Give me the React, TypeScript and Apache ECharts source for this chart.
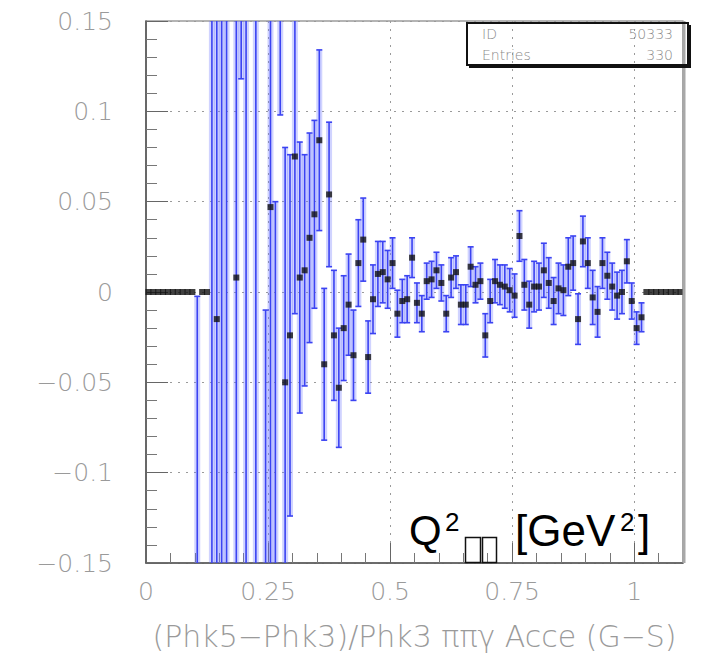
import React, { useEffect, useRef } from "react";
import * as echarts from "echarts";

// ---------- data (bin width 0.01, 110 bins from 0 to 1.1) ----------
const binWidth = 0.01;
const xMin = 0;
const xMax = 1.1;
const yMin = -0.15;
const yMax = 0.15;
const xTicks = [0, 0.25, 0.5, 0.75, 1];
const yTicks = [-0.15, -0.1, -0.05, 0, 0.05, 0.1, 0.15];

// bin contents (null = empty bin, nothing drawn)
const binValues: (number | null)[] = [
  0, 0, 0, 0, 0, 0, 0, 0, 0, 0, // 0-9
  -0.2, 0, 0, 0.3, -0.015, -0.3, 0.25, null, 0.008, 0.25, // 10-19
  0.3, null, -0.28, null, -0.2, 0.047, -0.2, 0.2, -0.05, -0.024, // 20-29
  0.075, 0.008, 0.012, 0.03, 0.043, 0.084, -0.04, 0.054, -0.024, -0.053, // 30-39
  -0.02, -0.007, -0.035, 0.016, 0.029, -0.036, -0.004, 0.01, 0.011, 0.007, // 40-49
  0.016, -0.012, -0.005, -0.004, 0.019, -0.006, -0.012, 0.006, 0.007, 0.012, // 50-59
  0.005, -0.012, 0.008, 0.011, -0.007, -0.007, 0.014, 0.004, 0.006, -0.024, // 60-69
  -0.005, 0.006, 0.004, 0.003, 0.001, -0.002, 0.031, 0.004, -0.007, 0.003, // 70-79
  0.003, 0.012, 0.005, -0.005, 0.002, 0.001, 0.014, 0.016, -0.015, 0.028, // 80-89
  0.016, -0.003, -0.011, 0.016, 0.009, 0.003, -0.002, 0.0, 0.017, -0.005, // 90-99
  -0.02, -0.014, 0, 0, 0, 0, 0, 0, 0, 0, // 100-109
];

// bin errors
const binErrors: number[] = [
  0, 0, 0, 0, 0, 0, 0, 0, 0, 0, // 0-9
  0.1976, 0, 0, 0.5, 0.4, 0.5, 0.45, 0, 0.3, 0.132, // 10-19
  0.5, 0, 0.5, 0, 0.19, 0.25, 0.25, 0.102, 0.13, 0.1, // 20-29
  0.087, 0.075, 0.064, 0.058, 0.052, 0.05, 0.042, 0.04, 0.036, 0.033, // 30-39
  0.029, 0.028, 0.025, 0.024, 0.023, 0.02, 0.019, 0.018, 0.017, 0.016, // 40-49
  0.014, 0.013, 0.012, 0.013, 0.011, 0.011, 0.01, 0.01, 0.01, 0.01, // 50-59
  0.01, 0.01, 0.011, 0.009, 0.011, 0.011, 0.011, 0.01, 0.01, 0.012, // 60-69
  0.012, 0.012, 0.011, 0.012, 0.012, 0.012, 0.014, 0.014, 0.013, 0.014, // 70-79
  0.013, 0.015, 0.014, 0.013, 0.014, 0.014, 0.016, 0.015, 0.014, 0.014, // 80-89
  0.014, 0.015, 0.014, 0.014, 0.013, 0.013, 0.013, 0.012, 0.012, 0.01, // 90-99
  0.009, 0.008, 0, 0, 0, 0, 0, 0, 0, 0, // 100-109
];

const statsLabels = ["ID", "Entries"];
const statsValues = ["50333", "330"];
const xTitle = "(Phk5\u2212Phk3)/Phk3 \u03c0\u03c0\u03b3 Acce (G\u2212S)";

const fmt = (v: number) => {
  const r = Math.round(v * 100) / 100;
  if (r === 0) return "0";
  return (r < 0 ? "\u2212" : "") + String(Math.abs(r));
};

export default function App() {
  const ref = useRef<HTMLDivElement>(null);
  useEffect(() => {
    if (!ref.current) return;
    const chart = echarts.init(ref.current, undefined, { renderer: "svg" });

    const errData: number[][] = [];
    const markData: number[][] = [];
    binValues.forEach((v, i) => {
      if (v === null) return;
      const x = (i + 0.5) * binWidth;
      const e = binErrors[i];
      if (e > 0) errData.push([x, v, e]);
      if (v >= yMin && v <= yMax) markData.push([x, v]);
    });

    const labelFont = {
      color: "#9a9a9a",
      fontFamily: "DejaVu Sans",
      fontWeight: 200 as any,
      fontSize: 25,
    };

    const renderItem = (params: any, api: any) => {
      const x = api.value(0);
      const v = api.value(1);
      const e = api.value(2);
      const cs = params.coordSys;
      const top = api.coord([x, v + e]);
      const bot = api.coord([x, v - e]);
      const yTop = Math.max(top[1], cs.y);
      const yBot = Math.min(bot[1], cs.y + cs.height);
      if (yTop >= yBot) return null;
      const cx = top[0];
      const children: any[] = [
        {
          type: "rect",
          shape: { x: cx - 3, y: yTop, width: 6, height: yBot - yTop },
          style: { fill: "rgba(110,118,255,0.32)" },
        },
        {
          type: "line",
          shape: { x1: cx, y1: yTop, x2: cx, y2: yBot },
          style: { stroke: "#3b43f2", lineWidth: 1.6 },
        },
      ];
      if (top[1] >= cs.y) {
        children.push({
          type: "line",
          shape: { x1: cx - 3, y1: top[1], x2: cx + 3, y2: top[1] },
          style: { stroke: "#3b43f2", lineWidth: 1.6 },
        });
      }
      if (bot[1] <= cs.y + cs.height) {
        children.push({
          type: "line",
          shape: { x1: cx - 3, y1: bot[1], x2: cx + 3, y2: bot[1] },
          style: { stroke: "#3b43f2", lineWidth: 1.6 },
        });
      }
      return { type: "group", children };
    };

    const supStyle = { fill: "#000", font: "26px 'Liberation Sans', Arial, sans-serif" };
    const bigStyle = { fill: "#000", font: "42px 'Liberation Sans', Arial, sans-serif" };
    const bracketStyle = { fill: "#000", font: "44px 'Liberation Sans', Arial, sans-serif" };

    chart.setOption({
      animation: false,
      backgroundColor: "#fff",
      grid: {
        left: 146,
        right: 23,
        top: 21,
        bottom: 93,
        show: true,
        borderColor: "#6a6a6a",
        borderWidth: 1.2,
        backgroundColor: "transparent",
      },
      xAxis: {
        type: "value",
        min: xMin,
        max: xMax,
        interval: 0.25,
        name: xTitle,
        nameLocation: "middle",
        nameGap: 58,
        nameTextStyle: { ...labelFont, fontSize: 30 },
        axisLine: { show: true, onZero: false, lineStyle: { color: "#555", width: 1.5 } },
        axisTick: { show: true, inside: true, length: 20, lineStyle: { color: "#666" } },
        minorTick: { show: true, splitNumber: 5, length: 10, lineStyle: { color: "#777" } },
        axisLabel: {
          ...labelFont,
          margin: 16,
          showMaxLabel: false,
          formatter: (v: number) => (xTicks.some((t) => Math.abs(t - v) < 1e-6) ? fmt(v) : ""),
        },
        splitLine: { show: true, lineStyle: { color: "#9a9a9a", type: [2, 6], width: 1 } },
        minorSplitLine: { show: false },
      },
      yAxis: {
        type: "value",
        min: yMin,
        max: yMax,
        interval: 0.05,
        axisLine: { show: true, onZero: false, lineStyle: { color: "#555", width: 1.5 } },
        axisTick: { show: true, inside: true, length: 22, lineStyle: { color: "#666" } },
        minorTick: { show: true, splitNumber: 5, length: 11, lineStyle: { color: "#777" } },
        axisLabel: {
          ...labelFont,
          margin: 33,
          formatter: (v: number) => (yTicks.some((t) => Math.abs(t - v) < 1e-6) ? fmt(v) : ""),
        },
        splitLine: { show: true, lineStyle: { color: "#9a9a9a", type: [2, 6], width: 1 } },
      },
      series: [
        {
          type: "custom",
          renderItem,
          data: errData,
          clip: true,
          z: 2,
          encode: { x: 0, y: 1 },
        },
        {
          type: "scatter",
          data: markData,
          symbol: "rect",
          symbolSize: 6,
          itemStyle: { color: "#111" },
          clip: true,
          z: 3,
        },
      ],
      graphic: [
        // right frame edge (thicker)
        {
          type: "line",
          shape: { x1: 684, y1: 21, x2: 684, y2: 563 },
          style: { stroke: "#a8a8a8", lineWidth: 3 },
          z: 10,
        },
        // stats box
        {
          type: "rect",
          shape: { x: 467, y: 23, width: 221, height: 42 },
          style: { fill: "rgba(0,0,0,0)", stroke: "#111", lineWidth: 2 },
          z: 10,
        },
        {
          type: "line",
          shape: { x1: 689.5, y1: 25, x2: 689.5, y2: 67.5 },
          style: { stroke: "#111", lineWidth: 3 },
          z: 10,
        },
        {
          type: "line",
          shape: { x1: 469, y1: 66.5, x2: 691, y2: 66.5 },
          style: { stroke: "#111", lineWidth: 3 },
          z: 10,
        },
        {
          type: "text",
          x: 482,
          y: 34,
          style: { text: statsLabels[0], fill: "#8a8a8a", font: "200 14px 'DejaVu Sans'", verticalAlign: "middle" },
          z: 10,
        },
        {
          type: "text",
          x: 673,
          y: 34,
          style: { text: statsValues[0], fill: "#8a8a8a", font: "200 14px 'DejaVu Sans'", align: "right", verticalAlign: "middle" },
          z: 10,
        },
        {
          type: "text",
          x: 482,
          y: 55,
          style: { text: statsLabels[1], fill: "#8a8a8a", font: "200 14px 'DejaVu Sans'", verticalAlign: "middle" },
          z: 10,
        },
        {
          type: "text",
          x: 673,
          y: 55,
          style: { text: statsValues[1], fill: "#8a8a8a", font: "200 14px 'DejaVu Sans'", align: "right", verticalAlign: "middle" },
          z: 10,
        },
        // Q^2 [GeV^2] label
        { type: "text", x: 409, y: 530, style: { ...bigStyle, text: "Q", verticalAlign: "middle" }, z: 10 },
        { type: "text", x: 445, y: 522, style: { ...supStyle, text: "2", verticalAlign: "middle" }, z: 10 },
        {
          type: "rect",
          shape: { x: 465.5, y: 537.5, width: 15, height: 25 },
          style: { fill: "rgba(0,0,0,0)", stroke: "#111", lineWidth: 1.5 },
          z: 10,
        },
        {
          type: "rect",
          shape: { x: 482.5, y: 537.5, width: 14, height: 25 },
          style: { fill: "rgba(0,0,0,0)", stroke: "#111", lineWidth: 1.5 },
          z: 10,
        },
        { type: "text", x: 515, y: 530, style: { ...bracketStyle, text: "[GeV", verticalAlign: "middle" }, z: 10 },
        { type: "text", x: 620, y: 522, style: { ...supStyle, text: "2", verticalAlign: "middle" }, z: 10 },
        { type: "text", x: 638, y: 530, style: { ...bracketStyle, text: "]", verticalAlign: "middle" }, z: 10 },
      ],
    });
    return () => chart.dispose();
  }, []);

  return (
    <div
      ref={ref}
      style={{ position: "absolute", left: 0, top: 0, width: 706, height: 656, background: "#fff" }}
    />
  );
}
